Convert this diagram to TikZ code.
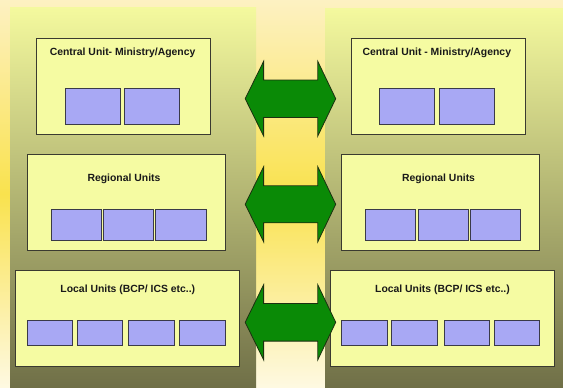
\documentclass[tikz,border=0pt]{standalone}
\usepackage{fontspec}
\setmainfont{Liberation Sans}
\begin{document}
\begin{tikzpicture}[x=1pt,y=-1pt,
  unitbox/.style={draw=boxline,fill=boxfill,line width=0.9pt,inner sep=0pt},
  subbox/.style={draw=subline,fill=subfill,line width=0.9pt,inner sep=0pt},
  title/.style={font=\bfseries\fontsize{10.4}{12}\selectfont,text=black!90,inner sep=0pt},
  linkarrow/.style={draw=arrowline,fill=arrowfill,line width=0.8pt,line join=miter}]
\definecolor{bgtop}{HTML}{FDF1C2}
\definecolor{bgmid}{HTML}{F9E24E}
\definecolor{bgbot}{HTML}{FEF9E2}
\definecolor{coltop}{HTML}{F4F99E}
\definecolor{colbot}{HTML}{6F6F47}
\definecolor{boxfill}{HTML}{F5FBA2}
\definecolor{boxline}{HTML}{3A3A30}
\definecolor{subfill}{HTML}{A8A8F4}
\definecolor{subline}{HTML}{3A3A48}
\definecolor{arrowfill}{HTML}{0A8A06}
\definecolor{arrowline}{HTML}{1C3010}

% page background: cream at top and bottom, yellow band in the middle
\useasboundingbox (0,0) rectangle (563,388);
\shade[top color=bgtop, bottom color=bgmid] (0,0) rectangle (563,194.5);
\shade[top color=bgmid, bottom color=bgbot] (0,194) rectangle (563,388);

% the two organisation columns
\shade[top color=coltop, bottom color=colbot] (10,7.5) rectangle (256,388);
\shade[top color=coltop, bottom color=colbot] (325,8) rectangle (563,388);

% left side
\node[unitbox, minimum width=174.5pt, minimum height=96pt] (lc) at (123.55,86.3) {};
\node[title] (lct) at (122.6,53.3) {Central Unit- Ministry/Agency};
\node[subbox, minimum width=55pt, minimum height=36pt] (lc1) at (92.8,106.3) {};
\node[subbox, minimum width=55.3pt, minimum height=36pt] (lc2) at (151.85,106.3) {};

\node[unitbox, minimum width=197.8pt, minimum height=95.7pt] (lr) at (126.2,202.15) {};
\node[title] (lrt) at (124,179.3) {Regional Units};
\node[subbox, minimum width=50.6pt, minimum height=30.7pt] (lr1) at (76.3,224.65) {};
\node[subbox, minimum width=50.3pt, minimum height=30.7pt] (lr2) at (128.55,224.65) {};
\node[subbox, minimum width=51.3pt, minimum height=30.7pt] (lr3) at (181.15,224.65) {};

\node[unitbox, minimum width=223.7pt, minimum height=95.7pt] (ll) at (127.25,318.15) {};
\node[title] (llt) at (127.8,290.3) {Local Units (BCP/ ICS etc..)};
\node[subbox, minimum width=45.2pt, minimum height=25.4pt] (ll1) at (49.9,333) {};
\node[subbox, minimum width=45.6pt, minimum height=25.4pt] (ll2) at (100,333) {};
\node[subbox, minimum width=46pt, minimum height=25.4pt] (ll3) at (151.9,333) {};
\node[subbox, minimum width=45.6pt, minimum height=25.4pt] (ll4) at (202.3,333) {};

% right side
\node[unitbox, minimum width=174.1pt, minimum height=96pt] (rc) at (438.25,86.3) {};
\node[title] (rct) at (436.8,53.3) {Central Unit - Ministry/Agency};
\node[subbox, minimum width=54.9pt, minimum height=36pt] (rc1) at (407.35,106.3) {};
\node[subbox, minimum width=55.3pt, minimum height=36pt] (rc2) at (466.75,106.3) {};

\node[unitbox, minimum width=197.8pt, minimum height=95.7pt] (rr) at (440.4,202.15) {};
\node[title] (rrt) at (438.6,179.3) {Regional Units};
\node[subbox, minimum width=50.3pt, minimum height=30.7pt] (rr1) at (390.65,224.65) {};
\node[subbox, minimum width=50.2pt, minimum height=30.7pt] (rr2) at (443.1,224.65) {};
\node[subbox, minimum width=50.2pt, minimum height=30.7pt] (rr3) at (495.5,224.65) {};

\node[unitbox, minimum width=224pt, minimum height=95.7pt] (rl) at (442,318.15) {};
\node[title] (rlt) at (442.5,290.3) {Local Units (BCP/ ICS etc..)};
\node[subbox, minimum width=45.9pt, minimum height=25.4pt] (rl1) at (364.45,333) {};
\node[subbox, minimum width=46pt, minimum height=25.4pt] (rl2) at (414.7,333) {};
\node[subbox, minimum width=45.2pt, minimum height=25.4pt] (rl3) at (466.8,333) {};
\node[subbox, minimum width=45.2pt, minimum height=25.4pt] (rl4) at (516.7,333) {};

% double block arrows linking each level
\foreach \c/\h/\s in {98.7/37.3/18.7, 204.3/37.5/18.5, 322.3/37.5/18.8}{
  \draw[linkarrow] (245.2,\c) -- (263.6,\c-\h) -- (263.6,\c-\s) -- (317.8,\c-\s)
    -- (317.8,\c-\h) -- (335.7,\c) -- (317.8,\c+\h) -- (317.8,\c+\s)
    -- (263.6,\c+\s) -- (263.6,\c+\h) -- cycle;
}
\end{tikzpicture}
\end{document}
